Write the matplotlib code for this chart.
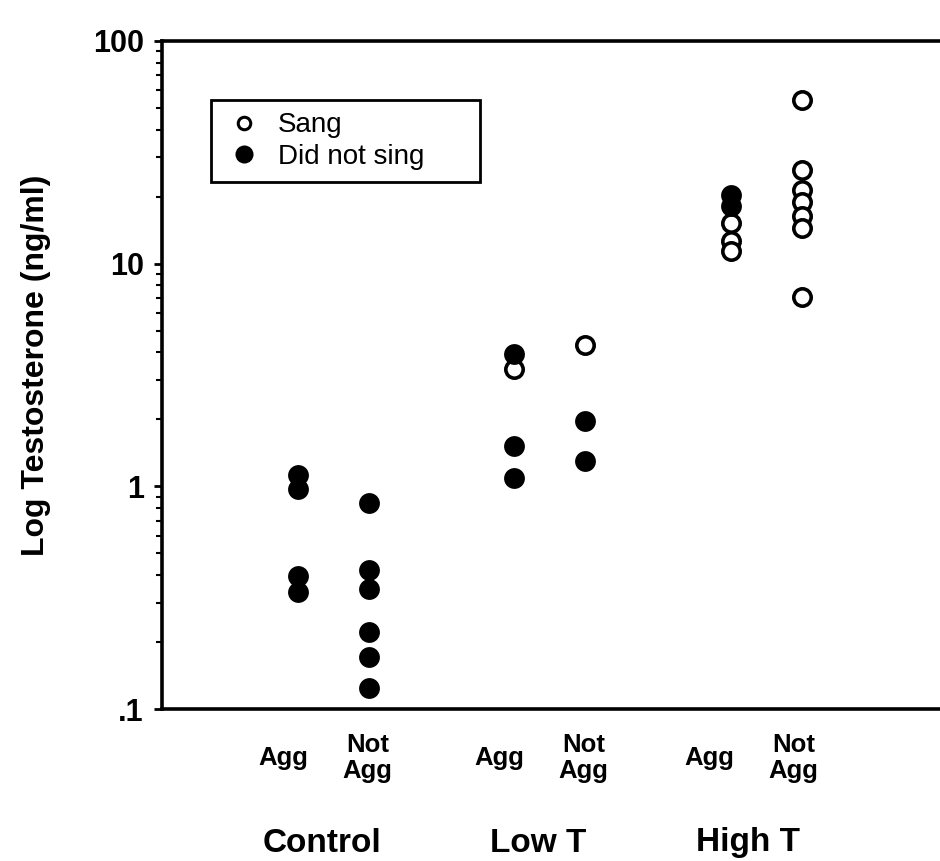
import matplotlib
matplotlib.use("Agg")
import matplotlib.pyplot as plt
from matplotlib.lines import Line2D
from matplotlib.ticker import FixedLocator, LogLocator, NullFormatter
import matplotlib.transforms as mtransforms

plt.rcParams["font.family"] = ["Liberation Sans", "DejaVu Sans"]

# data: testosterone (ng/ml) per group and aggression status
groups = ["Control", "Low T", "High T"]
columns = ["Agg", "Not\nAgg"]

sang = {
    ("Control", "Agg"): [],
    ("Control", "Not\nAgg"): [],
    ("Low T", "Agg"): [3.36],
    ("Low T", "Not\nAgg"): [4.31],
    ("High T", "Agg"): [15.2, 12.6, 11.4],
    ("High T", "Not\nAgg"): [54.3, 26.4, 21.4, 19.0, 16.3, 14.4, 7.1],
}
did_not_sing = {
    ("Control", "Agg"): [1.125, 0.973, 0.394, 0.337],
    ("Control", "Not\nAgg"): [0.842, 0.421, 0.345, 0.222, 0.172, 0.124],
    ("Low T", "Agg"): [3.92, 1.51, 1.09],
    ("Low T", "Not\nAgg"): [1.97, 1.30],
    ("High T", "Agg"): [20.3, 18.2],
    ("High T", "Not\nAgg"): [],
}

ytick_values = [0.1, 1, 10, 100]
ytick_labels = [".1", "1", "10", "100"]

# layout
col_offset = {"Agg": -0.164, "Not\nAgg": 0.164}
group_label_x = [-0.05, 0.947, 1.917]
label_offset = {"Agg": -0.18, "Not\nAgg": 0.21}

fig = plt.figure(figsize=(9.4, 8.61), dpi=100)
ax = fig.add_axes([0.1723, 0.1765, 0.827, 0.7759])

for gi, g in enumerate(groups):
    for c in columns:
        x = gi + col_offset[c]
        ys = sang[(g, c)]
        ax.plot([x] * len(ys), ys, "o", ms=12.5, mfc="white", mec="black",
                mew=2.6, ls="none", zorder=3)
for gi, g in enumerate(groups):
    for c in columns:
        x = gi + col_offset[c]
        ys = did_not_sing[(g, c)]
        ax.plot([x] * len(ys), ys, "o", ms=15, mfc="black", mec="black",
                mew=0, ls="none", zorder=4)

ax.set_yscale("log")
ax.set_ylim(0.1, 100)
ax.set_xlim(-0.79, 2.80)

ax.yaxis.set_major_locator(FixedLocator(ytick_values))
ax.set_yticklabels(ytick_labels, fontsize=22, fontweight="bold")
ax.yaxis.set_minor_locator(LogLocator(base=10, subs=range(2, 10)))
ax.yaxis.set_minor_formatter(NullFormatter())
ax.tick_params(axis="y", which="major", direction="out", length=6, width=2, pad=7)
ax.tick_params(axis="y", which="minor", direction="out", length=4, width=1.5)
ax.set_xticks([])

for side in ["left", "bottom", "top"]:
    ax.spines[side].set_linewidth(2.6)
ax.spines["right"].set_visible(False)

ax.set_ylabel("Log Testosterone (ng/ml)", fontsize=23, fontweight="bold")
ax.yaxis.set_label_coords(-0.143, 0.515)

trans = mtransforms.blended_transform_factory(ax.transData, fig.transFigure)
for gi, g in enumerate(groups):
    for c in columns:
        ax.text(group_label_x[gi] + label_offset[c], 1 - 758 / 861, c,
                transform=trans, ha="center", va="center", fontsize=18.5,
                fontweight="bold", linespacing=1.1)
    ax.text(group_label_x[gi], 1 - 843 / 861, g, transform=trans, ha="center",
            va="center", fontsize=24, fontweight="bold")

handles = [
    Line2D([], [], marker="o", ls="none", ms=9, mfc="white", mec="black", mew=2.2),
    Line2D([], [], marker="o", ls="none", ms=13, mfc="black", mec="black", mew=0),
]
leg = ax.legend(handles, ["Sang", "Did not sing"], loc="upper left",
                bbox_to_anchor=(0.063, 0.772, 0.346, 0.14), mode="expand",
                borderaxespad=0, fancybox=False, edgecolor="black",
                fontsize=20, handletextpad=0.45, labelspacing=0.2,
                borderpad=0.45, handlelength=1.5, framealpha=1)
leg.get_frame().set_linewidth(2)

fig.savefig("out.png", dpi=100)
